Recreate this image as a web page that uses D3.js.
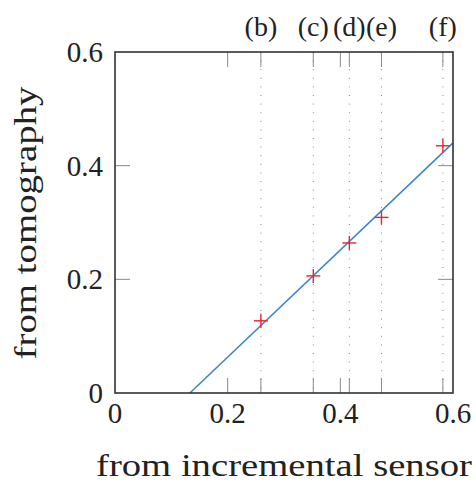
<!DOCTYPE html>
<html>
<head>
<meta charset="utf-8">
<script src="https://cdn.jsdelivr.net/npm/d3@7"></script>
</head>
<body style="margin:0;background:#fff">
<svg id="chart"></svg>
<script>
// measurement points (incremental sensor vs tomography)
const sensorVals = [0.259, 0.352, 0.416, 0.473, 0.582];
const tomoVals = [0.127, 0.206, 0.264, 0.309, 0.435];
const caseLabels = ["(b)", "(c)", "(d)", "(e)", "(f)"];

// fitted line endpoints
const fitX = [0.133, 0.6];
const fitY = [0, 0.44];

const xTicks = [0, 0.2, 0.4, 0.6];
const yTicks = [0, 0.2, 0.4, 0.6];

const width = 476, height = 483;
const margin = { top: 52, right: 23, bottom: 90, left: 115 };
const innerW = width - margin.left - margin.right;
const innerH = height - margin.top - margin.bottom;
const serifFont = "'Liberation Serif', 'Times New Roman', serif";

const svg = d3.select("#chart").attr("width", width).attr("height", height);
const g = svg.append("g").attr("transform", `translate(${margin.left},${margin.top})`);

const x = d3.scaleLinear().domain([0, 0.6]).range([0, innerW]);
const y = d3.scaleLinear().domain([0, 0.6]).range([innerH, 0]);

const fmt = (d) => (d === 0 ? "0" : d3.format(".1f")(d));
const tickLen = 15;

// dotted vertical guides at each case
g.selectAll("line.guide")
  .data(sensorVals)
  .join("line")
  .attr("class", "guide")
  .attr("x1", (d) => x(d)).attr("x2", (d) => x(d))
  .attr("y1", 0).attr("y2", innerH)
  .attr("stroke", "#888")
  .attr("stroke-width", 1)
  .attr("stroke-dasharray", "1,7.6");

// inward ticks on all four sides
const xTickAll = xTicks.slice(1, 3).concat(sensorVals);
g.selectAll("line.xtb")
  .data(xTickAll)
  .join("line")
  .attr("x1", (d) => x(d)).attr("x2", (d) => x(d))
  .attr("y1", innerH).attr("y2", innerH - tickLen)
  .attr("stroke", "#888").attr("stroke-width", 1);
g.selectAll("line.xtt")
  .data(xTickAll)
  .join("line")
  .attr("x1", (d) => x(d)).attr("x2", (d) => x(d))
  .attr("y1", 0).attr("y2", tickLen)
  .attr("stroke", "#888").attr("stroke-width", 1);
const yInner = yTicks.slice(1, 3);
g.selectAll("line.ytl")
  .data(yInner)
  .join("line")
  .attr("x1", 0).attr("x2", tickLen)
  .attr("y1", (d) => y(d)).attr("y2", (d) => y(d))
  .attr("stroke", "#888").attr("stroke-width", 1);
g.selectAll("line.ytr")
  .data(yInner)
  .join("line")
  .attr("x1", innerW).attr("x2", innerW - tickLen)
  .attr("y1", (d) => y(d)).attr("y2", (d) => y(d))
  .attr("stroke", "#888").attr("stroke-width", 1);

// fitted line
g.append("path")
  .datum(fitX.map((d, i) => [d, fitY[i]]))
  .attr("fill", "none")
  .attr("stroke", "#3d87c9")
  .attr("stroke-width", 1.6)
  .attr("d", d3.line().x((d) => x(d[0])).y((d) => y(d[1])));

// red plus markers
const m = 7;
const marks = g.selectAll("g.mark")
  .data(sensorVals.map((d, i) => [d, tomoVals[i]]))
  .join("g")
  .attr("transform", (d) => `translate(${x(d[0])},${y(d[1])})`);
marks.append("line").attr("x1", -m).attr("x2", m).attr("y1", 0).attr("y2", 0);
marks.append("line").attr("x1", 0).attr("x2", 0).attr("y1", -m).attr("y2", m);
marks.selectAll("line").attr("stroke", "#f0202a").attr("stroke-width", 1.4);

// frame
g.append("rect")
  .attr("width", innerW).attr("height", innerH)
  .attr("fill", "none").attr("stroke", "#333").attr("stroke-width", 1.6);

// tick labels
g.selectAll("text.xl")
  .data(xTicks)
  .join("text")
  .attr("x", (d) => x(d))
  .attr("y", innerH + 30)
  .attr("text-anchor", "middle")
  .attr("font-size", 29)
  .text(fmt);
g.selectAll("text.yl")
  .data(yTicks)
  .join("text")
  .attr("x", -12)
  .attr("y", (d) => y(d) + 10)
  .attr("text-anchor", "end")
  .attr("font-size", 29)
  .text(fmt);

// case labels on top
g.selectAll("text.case")
  .data(caseLabels)
  .join("text")
  .attr("x", (d, i) => x(sensorVals[i]))
  .attr("y", -16)
  .attr("text-anchor", "middle")
  .attr("font-size", 28)
  .text((d) => d);

// axis titles
svg.append("text")
  .attr("x", 284)
  .attr("y", 476)
  .attr("text-anchor", "middle")
  .attr("font-size", 31)
  .attr("textLength", 376)
  .attr("lengthAdjust", "spacingAndGlyphs")
  .text("from incremental sensor");
svg.append("text")
  .attr("transform", "translate(36,223) rotate(-90)")
  .attr("text-anchor", "middle")
  .attr("font-size", 31)
  .attr("textLength", 273)
  .attr("lengthAdjust", "spacingAndGlyphs")
  .text("from tomography");

svg.selectAll("text")
  .style("font-family", serifFont)
  .style("fill", "#222");
</script>
</body>
</html>
